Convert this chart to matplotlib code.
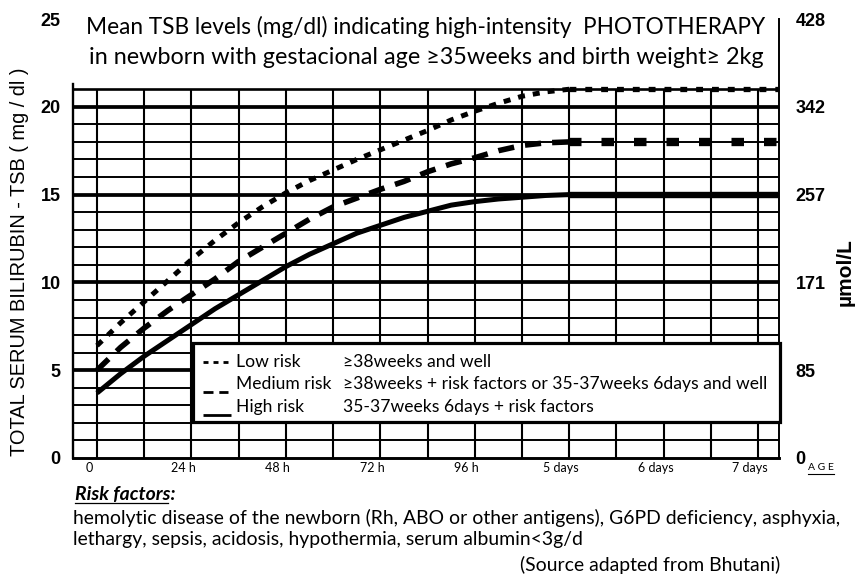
import matplotlib
matplotlib.use("Agg")
import matplotlib.pyplot as plt
import numpy as np
from matplotlib.patches import Rectangle
from matplotlib.lines import Line2D
from matplotlib.transforms import ScaledTranslation

# ---------------- data ----------------
hours = [0, 6, 12, 18, 24, 30, 36, 42, 48, 54, 60, 66, 72, 78, 84, 90, 96,
         102, 108, 114, 120, 173]
low_risk = [6.4, 7.7, 8.9, 10.1, 11.3, 12.4, 13.4, 14.3, 15.1, 15.8, 16.4, 17.0,
            17.55, 18.1, 18.65, 19.25, 19.75, 20.2, 20.6, 20.85, 21.0, 21.0]
medium_risk = [5.0, 6.3, 7.4, 8.4, 9.3, 10.2, 11.2, 12.0, 12.8, 13.6, 14.3, 14.8,
               15.3, 15.75, 16.3, 16.75, 17.1, 17.5, 17.8, 17.95, 18.0, 18.0]
high_risk = [3.7, 4.8, 5.8, 6.7, 7.6, 8.5, 9.3, 10.1, 10.9, 11.6, 12.2, 12.8,
             13.25, 13.7, 14.05, 14.4, 14.6, 14.75, 14.85, 14.95, 15.0, 15.0]

x_tick_hours = [0, 24, 48, 72, 96, 120, 144, 168]
x_tick_labels = ["0", "24 h", "48 h", "72 h", "96 h", "5 days", "6 days", "7 days"]
tsb_ticks = [0, 5, 10, 15, 20, 25]
umol_labels = ["0", "85", "171", "257", "342", "428"]

legend_names = ["Low risk", "Medium risk", "High risk"]
legend_desc = ["\u226538weeks and well",
               "\u226538weeks + risk factors or 35-37weeks 6days and well",
               "35-37weeks 6days + risk factors"]

title_1 = "Mean TSB levels (mg/dl) indicating high-intensity  PHOTOTHERAPY"
title_2 = "in newborn with gestacional age \u226535weeks and birth weight\u2265 2kg"
risk_head = "Risk factors:"
risk_1 = ("hemolytic disease of the newborn (Rh, ABO or other antigens), "
          "G6PD deficiency, asphyxia,")
risk_2 = "lethargy, sepsis, acidosis, hypothermia, serum albumin<3g/d"
source = "(Source adapted from Bhutani)"

# ---------------- figure ----------------
W, H = 862, 575
fig = plt.figure(figsize=(W / 100, H / 100), dpi=100)
CAL = ["Lato", "DejaVu Sans"]
ARI = ["Liberation Sans", "DejaVu Sans"]


def fx(x):
    return x / W


def fy(y):
    return 1 - y / H


ax = fig.add_axes([fx(73), fy(458), (779 - 73) / W, (458 - 19) / H])
XMIN, XMAX = -6.1, 173.3
ax.set_xlim(XMIN, XMAX)
ax.set_ylim(0, 25)

# grid
ax.vlines(np.arange(0, 169, 12), 0, 21, colors="black", lw=1.5, zorder=1)
thin = [i for i in range(1, 21) if i % 5]
ax.hlines(thin, XMIN, XMAX, colors="black", lw=1.4, zorder=1)
ax.hlines([5, 10, 15, 20], XMIN, XMAX, colors="black", lw=2.7, zorder=1)
ax.hlines([21], XMIN, XMAX, colors="black", lw=1.9, zorder=1)

# curves: rising part + plateau part
split = hours.index(120)
ax.plot(hours[:split + 1], low_risk[:split + 1], color="black", lw=3.6,
        linestyle=(0, (1.4, 1.6)), dash_capstyle="butt", zorder=3)
ax.plot(hours[split:], low_risk[split:], color="black", lw=3.8,
        linestyle=(0, (1.3, 1.7)), dash_capstyle="butt", zorder=3)
ax.plot(hours[:split + 1], medium_risk[:split + 1], color="black", lw=4.0,
        linestyle=(0, (2.9, 2.0)), dash_capstyle="butt", zorder=3)
ax.plot(hours[split:], medium_risk[split:], color="black", lw=6.0,
        linestyle=(0, (1.5, 2.4)), dash_capstyle="butt", zorder=3)
ax.plot(hours[:split + 1], high_risk[:split + 1], color="black", lw=3.6,
        solid_capstyle="butt", zorder=3)
ax.plot(hours[split:], high_risk[split:], color="black", lw=4.6,
        solid_capstyle="butt", zorder=3)

# spines
ax.spines["top"].set_visible(False)
ax.spines["left"].set_bounds(0, 21.3)
ax.spines["left"].set_linewidth(1.7)
ax.spines["bottom"].set_linewidth(2.1)
ax.spines["right"].set_linewidth(1.4)

# ticks
ax.set_xticks(x_tick_hours, x_tick_labels)
ax.tick_params(axis="x", length=0, pad=3)
for lbl in ax.get_xticklabels():
    lbl.set_family(CAL)
    lbl.set_fontsize(9)
    lbl.set_transform(lbl.get_transform() +
                      ScaledTranslation(-8 / 100, 0, fig.dpi_scale_trans))
ax.set_yticks(tsb_ticks)
ax.tick_params(axis="y", length=0, pad=9)
for lbl in ax.get_yticklabels():
    lbl.set_family(ARI)
    lbl.set_fontweight("bold")
    lbl.set_fontsize(13)

ax2 = ax.twinx()
ax2.set_ylim(0, 25)
ax2.set_yticks(tsb_ticks, umol_labels)
ax2.tick_params(axis="y", length=0, pad=12)
for s in ax2.spines.values():
    s.set_visible(False)
for lbl in ax2.get_yticklabels():
    lbl.set_family(ARI)
    lbl.set_fontweight("bold")
    lbl.set_fontsize(13)

renderer = fig.canvas.get_renderer()


def fit(t, target, vertical=False):
    bb = t.get_window_extent(renderer)
    size = bb.height if vertical else bb.width
    t.set_fontsize(t.get_fontsize() * target / size)
    return t.get_fontsize()


# axis labels
yl = fig.text(fx(20), fy(262), "TOTAL SERUM BILIRUBIN - TSB ( mg / dl )",
              rotation=90, ha="center", va="center", family=ARI, fontsize=12)
fit(yl, 390, vertical=True)
fig.text(fx(845), fy(272), "\u00b5mol/L", rotation=90, ha="center",
         va="center", family=ARI, fontweight="bold", fontsize=15)

age = fig.text(fx(808), fy(468), "A G E", ha="left", va="center",
               family=CAL, fontsize=7.5)
bb = age.get_window_extent(renderer)
fig.add_artist(Line2D([bb.x0 / W, bb.x1 / W], [(bb.y0 - 1) / H] * 2,
                      color="black", lw=0.8))

# title
t1 = fig.text(fx(426), fy(27), title_1, ha="center", va="center", family=CAL,
              fontsize=16, zorder=6)
fit(t1, 682)
t2 = fig.text(fx(426), fy(57), title_2, ha="center", va="center", family=CAL,
              fontsize=16, zorder=6)
fit(t2, 677)

# legend box
fig.add_artist(Rectangle((fx(193), fy(422)), (780 - 193) / W, (422 - 343) / H,
                         transform=fig.transFigure, facecolor="white",
                         edgecolor="black", lw=2.3, zorder=5))
rows_y = [362, 384, 407]
probe = fig.text(fx(343), fy(rows_y[1]), legend_desc[1], ha="left",
                 va="center", family=CAL, fontsize=12, zorder=6)
lfs = fit(probe, 420)
probe.remove()
for yrow, name, desc in zip(rows_y, legend_names, legend_desc):
    fig.text(fx(236), fy(yrow), name, ha="left", va="center", family=CAL,
             fontsize=lfs, zorder=6)
    fig.text(fx(343), fy(yrow), desc, ha="left", va="center", family=CAL,
             fontsize=lfs, zorder=6)
fig.add_artist(Line2D([fx(203), fx(229)], [fy(362)] * 2, color="black", lw=2,
                      linestyle=(0, (1.8, 1.8)), dash_capstyle="butt",
                      zorder=6))
fig.add_artist(Line2D([fx(203), fx(228)], [fy(392)] * 2, color="black", lw=2,
                      linestyle=(0, (3.6, 2.1)), dash_capstyle="butt",
                      zorder=6))
fig.add_artist(Line2D([fx(203), fx(231)], [fy(415)] * 2, color="black", lw=2,
                      solid_capstyle="butt", zorder=6))

# risk factor notes
r1 = fig.text(fx(73), fy(518), risk_1, ha="left", va="center", family=CAL,
              fontsize=12)
bfs = fit(r1, 765)
fig.text(fx(73), fy(540), risk_2, ha="left", va="center", family=CAL,
         fontsize=bfs)
fig.text(fx(780), fy(565), source, ha="right", va="center", family=CAL,
         fontsize=bfs)
rh = fig.text(fx(75), fy(495), risk_head, ha="left", va="center", family=CAL,
              fontsize=bfs, fontweight="bold", fontstyle="italic")
bb = rh.get_window_extent(renderer)
fig.add_artist(Line2D([bb.x0 / W, (bb.x0 + 0.93 * bb.width) / W],
                      [(bb.y0 + 1) / H] * 2, color="black", lw=0.9))

fig.savefig("out.png", dpi=100)
